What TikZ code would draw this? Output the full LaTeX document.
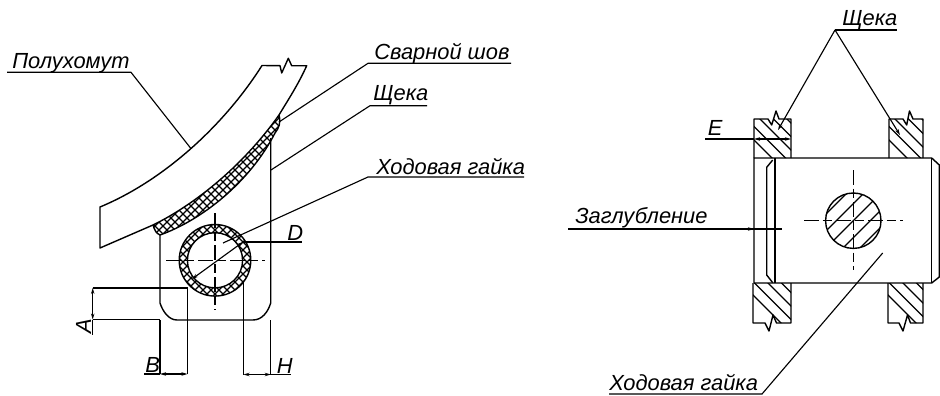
\documentclass[tikz,border=0pt]{standalone}
\usepackage{fontspec}
\setmainfont{Liberation Sans}
\usetikzlibrary{arrows.meta}
\tikzset{
  lab/.style={font=\fontsize{16.4}{19}\selectfont\itshape,inner sep=0pt,anchor=base west},
  ln/.style={line width=1.05pt,black,line join=round},
  thin/.style={line width=0.85pt,black},
  hatch/.style={line width=0.85pt,black},
  mesh/.style={line width=0.8pt,black},
  dashc/.style={line width=1.05pt,black,dash pattern=on 11pt off 3pt on 7pt off 3pt},
  tip/.style={-{Stealth[length=4.5pt,width=2.6pt]}},
  tips/.style={{Stealth[length=4.5pt,width=2.6pt]}-{Stealth[length=4.5pt,width=2.6pt]}}
}
\newcommand{\meshlines}{%
  \foreach \i in {-100,...,100}{
    \draw[mesh] (215+8*\i-150,190-150) -- (215+8*\i+150,190+150);
    \draw[mesh] (215+8*\i+150,190-150) -- (215+8*\i-150,190+150);
  }}
\begin{document}
\begin{tikzpicture}[x=0.75pt,y=-0.75pt]
\useasboundingbox (0,0) rectangle (940,396);
% ---------- left view
% weld
\begin{scope}
\clip (153,225) .. controls (190,207) and (240,170) .. (279,115)
  .. controls (281,123) and (279,128) .. (275,133)
  .. controls (250,182) and (202,220) .. (160,235)
  .. controls (155,233) and (153,230) .. (153,225) -- cycle;
\meshlines
\end{scope}
\draw[ln] (153,225) .. controls (155,231) and (156,233) .. (160,235)
  .. controls (202,220) and (250,182) .. (275,133)
  .. controls (279,128) and (281,123) .. (279,115);
% clamp
\draw[ln] (100,207) .. controls (165,180) and (225,124) .. (262,65.5)
  -- (280,65.7) -- (281.7,73) -- (288.3,58.3) -- (291.7,65.7) -- (306.7,65.7)
  .. controls (298,85) and (288,100) .. (279,115)
  .. controls (240,170) and (190,207) .. (153,225)
  -- (100,248) -- cycle;
% cheek body
\coordinate (lcheekTL) at (160,235);
\coordinate (lcheekTR) at (270.7,138);
\draw[ln] (lcheekTL) -- (160,303) .. controls (163,312) and (169,320) .. (177,320)
  -- (253,320) .. controls (262,320) and (268,312) .. (270.7,303) -- (lcheekTR);
% ring
\coordinate (rc) at (215,260.3);
\begin{scope}[even odd rule]
\clip (rc) circle[radius=35.8] (rc) circle[radius=27.6];
\meshlines
\end{scope}
\draw[ln] (rc) circle[radius=35.8];
\draw[ln] (rc) circle[radius=27.6];
% centre lines
\draw[dashc] (166,260.3) -- (265,260.3);
\draw[dashc] (215,213) -- (215,310);
% dimension lines
\coordinate (aT) at (92.7,288);
\coordinate (aB) at (92.7,319.5);
\coordinate (aE) at (92.7,335);
\coordinate (bR) at (187.5,374);
\coordinate (bL) at (160,374);
\coordinate (hL) at (243.5,374.5);
\coordinate (hR) at (270.7,374.5);
\draw[thin] (aT) -- (187.5,288);
\draw[thin] (aB) -- (160,319.5);
\draw[thin,tips] (aT) -- (aB);
\draw[thin] (aB) -- (aE);
\draw[ln] (bL) -- (160,320);
\draw[ln] (hR) -- (270.7,320);
\draw[thin] (bR) -- (187.5,288);
\draw[thin] (hL) -- (243.5,282);
\draw[thin,tips] (bL) -- (bR);
\draw[thin,tips] (hL) -- (hR);
\node[lab,rotate=90] (la) at (91,334) {A};
\node[lab] (lb) at (145,372.5) {B};
\node[lab] (lh) at (276.5,373) {H};
\coordinate (bU) at (144,374);
\coordinate (hU) at (291,374.5);
\draw[thin] (bU) -- (bL);
\draw[thin] (hR) -- (hU);
% D
\coordinate (dA) at (192,279);
\coordinate (dB) at (243,242);
\coordinate (dU) at (302,242);
\draw[thin,tips] (dA) -- (dB);
\draw[thin] (dB) -- (dU);
\node[lab] (ld) at (287,240.5) {D};
% labels left
\node[lab] (lp) at (12,68) {Полухомут};
\coordinate (pS) at (7,72.3);
\coordinate (pE) at (131,72.3);
\coordinate (pT) at (190.5,148);
\draw[thin] (pS) -- (pE) -- (pT);
\node[lab] (ls) at (374,60) {Сварной шов};
\coordinate (sS) at (368,63.3);
\coordinate (sE) at (511,63.3);
\coordinate (sT) at (279,122);
\draw[thin] (sE) -- (sS) -- (sT);
\node[lab] (lq) at (373,100.7) {Щека};
\coordinate (qS) at (370,105.7);
\coordinate (qE) at (427,105.7);
\coordinate (qT) at (271,170);
\draw[thin] (qE) -- (qS) -- (qT);
\node[lab] (lg) at (376,174) {Ходовая гайка};
\coordinate (gS) at (368,177);
\coordinate (gE) at (524,177);
\coordinate (gT) at (223,243);
\draw[thin] (gE) -- (gS) -- (gT);
% ---------- right view
% upper cheeks
\begin{scope}
\clip (754,119) -- (768,119) -- (771.7,125) -- (776,111) -- (779,119) -- (791,119) -- (791,158) -- (754,158) -- cycle;
\foreach \i in {0,...,5}{\draw[hatch] (724+13.5*\i,110) -- (794+13.5*\i,180);}
\end{scope}
\draw[ln] (754,158) -- (754,119) -- (768,119) -- (771.7,125) -- (776,111) -- (779,119) -- (791,119) -- (791,158);
\begin{scope}
\clip (889,119) -- (903,119) -- (906.7,125) -- (909.5,111) -- (913,119) -- (923,119) -- (923,158) -- (889,158) -- cycle;
\foreach \i in {0,...,5}{\draw[hatch] (859+13.5*\i,110) -- (929+13.5*\i,180);}
\end{scope}
\draw[ln] (889,158) -- (889,119) -- (903,119) -- (906.7,125) -- (909.5,111) -- (913,119) -- (923,119) -- (923,158);
% lower cheeks
\begin{scope}
\clip (753,283) -- (791,283) -- (791,323) -- (776.5,323) -- (773,315) -- (769,331) -- (765,323) -- (753,323) -- cycle;
\foreach \i in {0,...,5}{\draw[hatch] (723+13.5*\i,265) -- (793+13.5*\i,335);}
\end{scope}
\draw[ln] (753,283) -- (753,323) -- (765,323) -- (769,331) -- (773,315) -- (776.5,323) -- (791,323) -- (791,283);
\begin{scope}
\clip (888,283) -- (923,283) -- (923,323) -- (910.5,323) -- (907.5,315) -- (903,331) -- (899,323) -- (888,323) -- cycle;
\foreach \i in {0,...,5}{\draw[hatch] (858+13.5*\i,265) -- (928+13.5*\i,335);}
\end{scope}
\draw[ln] (888,283) -- (888,323) -- (899,323) -- (903,331) -- (907.5,315) -- (910.5,323) -- (923,323) -- (923,283);
% nut
\draw[ln] (754,158) -- (931.7,158) -- (939.3,165) -- (939.3,277) -- (931.7,283) -- (754,283) -- cycle;
\draw[ln] (931.7,158) -- (931.7,283);
\draw[ln] (775,158) -- (775,283);
\draw[ln] (772.7,160) -- (766.7,167.3) -- (766.7,275) -- (772.7,282.7);
% section circle
\coordinate (cc) at (853.3,220.7);
\begin{scope}
\clip (cc) circle[radius=27.7];
\foreach \i in {-4,...,4}{\draw[hatch] (853.3+17*\i-50,270.7) -- (853.3+17*\i+50,170.7);}
\end{scope}
\draw[ln] (cc) circle[radius=27.7];
\draw[dashc] (804,220.7) -- (903,220.7);
\draw[dashc] (853.3,170) -- (853.3,270);
% right labels
\node[lab] (rq) at (842,26) {Щека};
\coordinate (rqE) at (897,30);
\coordinate (rqM) at (835,30);
\coordinate (rqA) at (778,130);
\coordinate (rqB) at (900,135);
\draw[thin] (rqM) -- (rqE);
\draw[thin,tip] (rqM) -- (rqA);
\draw[thin,tip] (rqM) -- (rqB);
\node[lab] (re) at (707.5,135.7) {E};
\coordinate (reS) at (705,139);
\coordinate (reA) at (754,139);
\coordinate (reE) at (791,139);
\draw[thin] (reS) -- (reA);
\draw[thin,tips] (reA) -- (reE);
\node[lab] (rz) at (575,223) {Заглубление};
\coordinate (rzS) at (568,229);
\coordinate (rzE) at (782,229);
\coordinate (rzT) at (754,229);
\draw[thin] (rzS) -- (rzE);
\draw[thin,tip] (rzS) -- (rzT);
\node[lab] (rg) at (609,390.5) {Ходовая гайка};
\coordinate (rgS) at (609,394);
\coordinate (rgE) at (762,394);
\coordinate (rgT) at (882.7,253);
\draw[thin] (rgS) -- (rgE) -- (rgT);
\end{tikzpicture}
\end{document}
